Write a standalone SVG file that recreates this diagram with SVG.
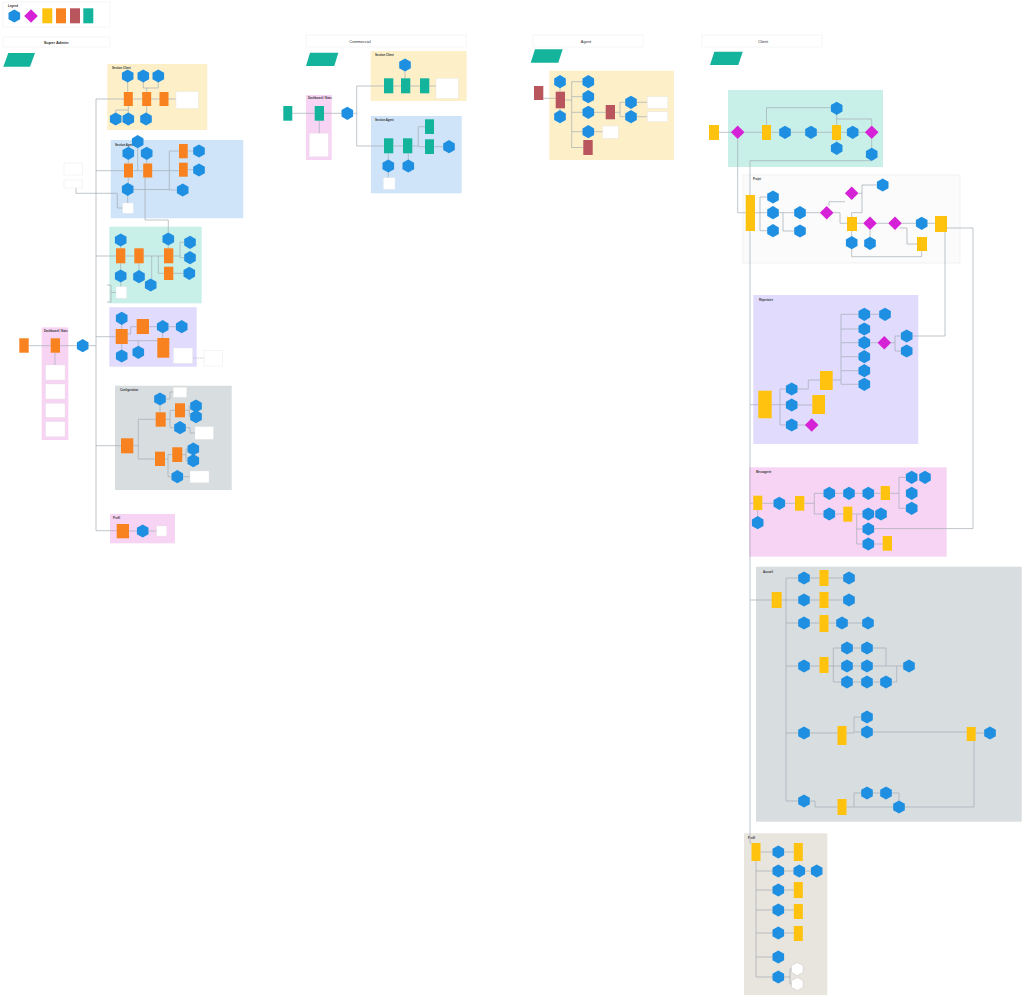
<svg xmlns="http://www.w3.org/2000/svg" xmlns:xlink="http://www.w3.org/1999/xlink" width="1024" height="995" viewBox="0 0 1024 995">
<style>
.hx{fill:#1e8fe1}
.wh{fill:#fff;stroke:#c8c8c8;stroke-width:.5}
.or{fill:#f7821f}
.ye{fill:#ffc20f}
.mr{fill:#b8555d}
.tl{fill:#14b39b}
.dm{fill:#d622d6}
.wb{fill:#fff;stroke:#e3e3e3;stroke-width:.4}
.ln{fill:none;stroke:#a3adb5;stroke-width:.7}
.dl{fill:none;stroke:#a3adb5;stroke-width:.6;stroke-dasharray:1.5 1}
.lbl{font-family:"Liberation Sans",Arial,sans-serif;font-size:2.8px;font-weight:bold;fill:#333}
.hd{font-family:"Liberation Sans",Arial,sans-serif;font-size:4px;fill:#333;text-anchor:middle}
.hdr{fill:#fff;stroke:#ececec;stroke-width:.5}
.s-ye{fill:#fdf0c9}.s-bl{fill:#cfe4f8}.s-tq{fill:#c9efe9}.s-pu{fill:#e1dbfd}.s-pk{fill:#f8d4f4}.s-gr{fill:#d8dde0}.s-be{fill:#e8e4de}
.s-pj{fill:#fbfbfb;stroke:#e5e5e5;stroke-width:.5}
</style>
<defs>
<path id="hx" d="M0,-6.6 L5.8,-3.3 L5.8,3.3 L0,6.6 L-5.8,3.3 L-5.8,-3.3Z"/>
<path id="dm" d="M0,-6.8 L6.8,0 L0,6.8 L-6.8,0Z"/>
</defs>
<rect width="1024" height="995" fill="#fff"/>

<g id="legend">
<rect class="hdr" x="3" y="2" width="107" height="25"/>
<text class="lbl" x="8" y="7" font-weight="normal">Legend</text>
<use href="#hx" class="hx" x="14.3" y="16"/>
<use href="#dm" class="dm" x="31" y="16"/>
<rect class="ye" x="42.3" y="8.3" width="10" height="15"/>
<rect class="or" x="56" y="8.3" width="10" height="15"/>
<rect class="mr" x="70" y="8.3" width="10" height="15"/>
<rect class="tl" x="83.3" y="8.3" width="10" height="15"/>
</g>
<g id="hdr-sa"><rect class="hdr" x="3" y="37" width="107" height="10"/><text class="hd" x="56" y="43.5" font-weight="bold">Super Admin</text></g>
<g id="hdr-co"><rect class="hdr" x="306" y="35" width="160" height="12"/><text class="hd" x="360" y="42.5">Commercial</text></g>
<g id="hdr-ag"><rect class="hdr" x="533" y="35" width="110" height="12"/><text class="hd" x="586" y="42.5">Agent</text></g>
<g id="hdr-cl"><rect class="hdr" x="702" y="35" width="120" height="12"/><text class="hd" x="763" y="42.5">Client</text></g>

<g id="pg-sa"><polygon class="tl" points="8.3,53 35,53 30,66.7 3.3,66.7"/></g>
<g id="pg-co"><polygon class="tl" points="310,52.7 338.3,52.7 334.3,66 306,66"/></g>
<g id="pg-ag"><polygon class="tl" points="535,49.3 562.7,49.3 558.3,62.7 530.7,62.7"/></g>
<g id="pg-cl"><polygon class="tl" points="714.3,51.7 742.7,51.7 738.3,65 710,65"/></g>

<g id="sections">
<rect class="s-ye" x="107.3" y="64" width="100" height="66"/><text class="lbl" x="112" y="69">Section Client</text>
<rect class="s-bl" x="110.7" y="140" width="132.6" height="78.3"/><text class="lbl" x="115" y="145.5">Section Agent</text>
<rect class="s-tq" x="109.3" y="226.7" width="92.4" height="76.6"/>
<rect class="s-pu" x="109.3" y="307.3" width="87.4" height="59.4"/>
<rect class="s-pk" x="41.7" y="327.3" width="26.6" height="112.7"/><text class="lbl" x="44" y="331.5">Dashboard / Stats</text>
<rect class="s-gr" x="115" y="385.7" width="116.7" height="104.3"/><text class="lbl" x="120" y="391">Configuration</text>
<rect class="s-pk" x="110" y="514" width="65" height="29.3"/><text class="lbl" x="113" y="518.5">Profil</text>
<rect class="s-ye" x="370.7" y="51" width="96" height="50"/><text class="lbl" x="375" y="56">Section Client</text>
<rect class="s-bl" x="371" y="116" width="90.7" height="77.3"/><text class="lbl" x="375" y="121">Section Agent</text>
<rect class="s-pk" x="306" y="95" width="25.7" height="65"/><text class="lbl" x="308" y="99">Dashboard / Stats</text>
<rect class="s-ye" x="549.3" y="70.7" width="124.7" height="89.3"/>
<rect class="s-tq" x="728" y="90" width="155" height="77"/>
<rect class="s-pj" x="743" y="175" width="217" height="88"/><text class="lbl" x="753" y="180">Projet</text>
<rect class="s-pu" x="753.3" y="295" width="165" height="149"/><text class="lbl" x="759" y="301">Répertoire</text>
<rect class="s-pk" x="749" y="467.3" width="197.7" height="89.4"/><text class="lbl" x="756" y="472.5">Messagerie</text>
<rect class="s-gr" x="756" y="566.7" width="265.7" height="255"/><text class="lbl" x="763" y="572.5">Accueil</text>
<rect class="s-be" x="744" y="833.3" width="83.3" height="161.7"/><text class="lbl" x="748" y="838.5">Profil</text>
</g>

<g id="connectors">
<path class="ln" d="M96,99 H176 M127.7,82 V92 M143.3,82 V88 H146.7 V92 M158.3,82 V88 H146.7 M128.3,106 V110 H115.7 V113 M128.3,110 V113 M146.7,106 V113"/>
<path class="ln" d="M96,99 V530.7 H116.7"/>
<path class="ln" d="M96,170.7 H124 M133,170.7 H143.2 M152.2,170.7 H179 M169.3,151 V190 M169.3,151 H179 M169.3,190 H176.7 M187.7,151 H193.5 M187.7,169.7 H193.5 M137.7,148 V170.7 M128.3,159.6 V163.5 M146.7,159.6 V163.5 M128.3,177.5 V183 M127.7,195.6 V203 M133.3,189.5 H169.3 M76,188 V193.3 H117.3 V208 H122.7 M145,177.5 V220 H168.3 V232.7"/>
<path class="ln" d="M96,256 H116 M125.3,256 H134.3 M143.7,256 H164 M151.7,256 V278.7 M158.3,256 V273.3 H164 M173.3,256 H180 V242.3 H184.5 M180,256 V257.7 H184.5 M173.3,273.3 H183.8 M120.7,246.3 V248.3 M120.7,263.3 V269.7 M120.7,282.3 V286.7 M139,263.3 V270.4 M168.3,245.3 V248.3 M107,285 H111 V302 H107 M111,292.5 H116"/>
<path class="ln" d="M96,336.7 H115.7 M127.7,334 H130.7 V326.7 H136.7 M127.7,340.7 H157.3 M138.3,340.7 V346 M149,326.7 H157.2 M168.2,326.7 H176.2 M162.7,333 V338 M121.7,324.6 V329 M121.7,344 V349.7"/>
<path class="dl" d="M192.7,358 H204"/>
<path class="ln" d="M28.7,345.7 H50.7 M60,345.7 H77.2 M88.2,345.7 H96 M55,352.7 V365"/>
<path class="ln" d="M96,445.7 H121 M133.3,445.7 H138.3 M138.3,419.3 V459 M138.3,419.3 H155.7 M138.3,459 H155 M160,405.3 V412.3 M165.5,399 H170 V392 H173.3 M165.7,419.3 H170 V410.3 H175 M170,419.3 V427.7 H174.5 M185,410.3 H189.3 V406 H190.5 M189.3,410.3 V416.7 H190.5 M185.5,427.7 H190 V433 H195 M165,459 H168 V454.6 H172.3 M168,459 V476.7 H171.8 M182.3,454.6 H186 V449 H187.8 M186,454.6 V460.7 H187.8 M182.8,476.7 H190"/>
<path class="ln" d="M129,531 H137.2 M148.2,531 H156.7"/>
<path class="ln" d="M292.3,113.3 H314.7 M324,113.3 H341.8 M352.8,113.3 H356.7 M356.7,86 V146 M356.7,86 H384 M356.7,146 H384 M393.3,86 H401 M410.3,86 H420 M429.3,86 H436 M405,71.3 V78.3 M393.3,146 H403 M412.3,146 H418.3 V126.7 H425 M418.3,146.7 H425 M434,146.7 H443.5 M388.3,153.3 V160 M388.3,172 V177.7 M408.3,153.3 V160 M319.3,120.7 V133.3"/>
<path class="ln" d="M543.3,98.3 H555.7 M565,100 H571.7 M571.7,81.7 V147.5 M571.7,81.7 H582.8 M571.7,96.7 H582.8 M571.7,112.3 H582.8 M571.7,131.7 H582.8 M571.7,147.5 H583.3 M593.8,112.3 H605.7 M615,112.3 H620 V102.3 H625.5 M620,112.3 V116.7 H625.5 M636.5,102.3 H647.3 M636.5,116.7 H647.3 M593.8,131.7 H602.7 M560,88 V91.7 M560,108.3 V110.4"/>
<path class="ln" d="M719,132.3 H731 M744.4,132.3 H762 M771,132.3 H779.5 M790.5,132.3 H805.5 M816.5,132.3 H832 M841,132.3 H847.2 M858.2,132.3 H865 M766.5,125 V107.7 H831.2 M836.7,114.6 V125 M836.7,140 V142 M836.7,119 H871.7 V125.3 M871.7,139.3 V148 M871.7,160.6 V160.7 H750 V843 H751.5 M737.7,139.3 V212.7 H745.7"/>
<path class="ln" d="M755,212.7 H767.5 M760,197 V230.7 M760,197 H767.5 M760,230.7 H767.5 M778.5,212.7 H794.5 M783,212.7 V231 H794.5 M805.5,212.7 H819.9 M829,206 V201.7 H845 M851.7,217 V212.7 H862 V185 H877.2 M858.5,193.3 H862 M833.5,212.7 H840 V223.3 H847 M857,223.3 H863.2 M876.8,223.3 H888.2 M901.8,223.3 H916.2 M927.2,223.3 H935 M851.7,231 V236.4 M870,230.1 V237.1 M851.7,249 V256.7 H921.7 V251 M900,228 H907 V244 H917 M947,228 H973 V528.6 H873.8 M945,232 V336 H912.2"/>
<path class="ln" d="M750,404.7 H758.3 M771.7,404.7 H786.2 M780,389 V425 M780,389 H786.2 M780,425 H786.2 M797.2,389 H808.3 V380 H820 M797.2,405 H812.3 M797.2,425 H804.9 M832.7,380 H841 M841,314.3 V384.3 M841,314.3 H858.9 M841,329 H858.9 M841,342.7 H858.9 M841,356.7 H858.9 M841,370.7 H858.9 M841,384.3 H858.9 M869.7,314.3 H879.6 M869.7,342.7 H877.5 M891.1,342.7 H895 M895,336 V351 M895,336 H901.3 M895,351 H901.3"/>
<path class="ln" d="M750,503.3 H753.3 M762.3,503.3 H773.9 M784.7,503.3 H795 M804.3,503.3 H814.3 M814.3,493.3 V514 M814.3,493.3 H823.9 M814.3,514 H823.9 M834.7,493.3 H843.6 M854.4,493.3 H862.9 M873.7,493.3 H880.7 M890,493.3 H899 M899,477.3 V508.3 M899,477.3 H906.3 M899,508.3 H906.3 M834.7,514 H843.3 M852.3,514 H862.9 M856.7,514 V544 H862.9 M856.7,529 H862.9 M873.7,544 H882.7 M757.7,510 V516.5 M873.7,514 H875.6"/>
<path class="ln" d="M750,600 H771.7 M781.7,600 H786 M786,578 V801 M786,578 H798.6 M786,623 H798.6 M786,666 H798.6 M786,733 H798.6 M786,801 H798.6 M786,600 H798.6 M809.4,578 H819.5 M828.5,578 H843.6 M809.4,600 H819.5 M828.5,600 H843.6 M809.4,623 H819.5 M828.5,623 H836.6 M847.4,623 H862.6 M809.4,666 H819.5 M828.5,666 H841.6 M833.3,648 V682 M833.3,648 H841.6 M833.3,682 H841.6 M852.4,648 H861.6 M852.4,666 H861.6 M852.4,682 H861.6 M872.4,648 H886 V666 M872.4,666 H903.6 M872.4,682 H880.6 M891.4,682 H896.7 V666 M809.4,733 H837.5 M846.5,733 H854 M854,717 V732 M854,717 H861.6 M854,732 H861.6 M872.4,732 H966.7 M975.7,733 H984.6 M809.4,801 H815 V807 H837.5 M846.5,807 H893.6 M854,807 V793 H861.6 M872.4,793 H880.6 M891.4,793 H899 V800.8 M904.4,807 H974 V741"/>
<path class="ln" d="M760.5,852 H772.9 M783.7,852 H793.8 M756,861 V977 H772.9 M756,871 H772.9 M756,890 H772.9 M756,910 H772.9 M756,933 H772.9 M756,957 H772.9 M783.7,871 H793.9 M804.7,871 H811.3 M783.7,890 H793.8 M783.7,910 H793.8 M783.7,933 H793.8 M783.7,977 H790 V969 H791.9 M790,977 V984 H791.9"/>
</g>

<g id="sa-client">
<g id="sac-h1"><use href="#hx" class="hx" x="127.7" y="76"/></g>
<g id="sac-h2"><use href="#hx" class="hx" x="143.3" y="76"/></g>
<g id="sac-h3"><use href="#hx" class="hx" x="158.3" y="76"/></g>
<g id="sac-o1"><rect class="or" x="123.8" y="92" width="9" height="14"/></g>
<g id="sac-o2"><rect class="or" x="142.2" y="92" width="9" height="14"/></g>
<g id="sac-o3"><rect class="or" x="159.5" y="92" width="9" height="14"/></g>
<g id="sac-w1"><rect class="wb" x="176" y="91.7" width="22.3" height="16.6"/></g>
<g id="sac-h4"><use href="#hx" class="hx" x="115.7" y="119"/></g>
<g id="sac-h5"><use href="#hx" class="hx" x="128.3" y="119"/></g>
<g id="sac-h6"><use href="#hx" class="hx" x="146" y="119"/></g>
</g>
<g id="sa-agent">
<g id="saa-h1"><use href="#hx" class="hx" x="137.7" y="141.7"/></g>
<g id="saa-h2"><use href="#hx" class="hx" x="128.3" y="153.3"/></g>
<g id="saa-h3"><use href="#hx" class="hx" x="146.7" y="153.3"/></g>
<g id="saa-o1"><rect class="or" x="124" y="163.5" width="9" height="14"/></g>
<g id="saa-o2"><rect class="or" x="143.2" y="163.5" width="9" height="14"/></g>
<g id="saa-o3"><rect class="or" x="179" y="144" width="8.7" height="14.3"/></g>
<g id="saa-o4"><rect class="or" x="179" y="162.7" width="8.7" height="14"/></g>
<g id="saa-h4"><use href="#hx" class="hx" x="199" y="151"/></g>
<g id="saa-h5"><use href="#hx" class="hx" x="199" y="170"/></g>
<g id="saa-h6"><use href="#hx" class="hx" x="127.7" y="189.3"/></g>
<g id="saa-h7"><use href="#hx" class="hx" x="182.7" y="190"/></g>
<g id="saa-w1"><rect class="wb" x="122.7" y="203" width="10.6" height="10.3"/></g>
<g id="saa-n1"><rect class="wb" x="64" y="163" width="18.7" height="12"/></g>
<g id="saa-n2"><rect class="wb" x="64" y="180" width="18.7" height="8"/></g>
</g>
<g id="sa-ent">
<g id="sae-h1"><use href="#hx" class="hx" x="120.7" y="240"/></g>
<g id="sae-h2"><use href="#hx" class="hx" x="168.3" y="239"/></g>
<g id="sae-h3"><use href="#hx" class="hx" x="190" y="242.3"/></g>
<g id="sae-h4"><use href="#hx" class="hx" x="190" y="257.7"/></g>
<g id="sae-h5"><use href="#hx" class="hx" x="189.3" y="273.3"/></g>
<g id="sae-h6"><use href="#hx" class="hx" x="120.7" y="276"/></g>
<g id="sae-h7"><use href="#hx" class="hx" x="139" y="276.7"/></g>
<g id="sae-h8"><use href="#hx" class="hx" x="150.7" y="285"/></g>
<g id="sae-o1"><rect class="or" x="116" y="248.3" width="9.3" height="15"/></g>
<g id="sae-o2"><rect class="or" x="134.3" y="248.3" width="9.4" height="15"/></g>
<g id="sae-o3"><rect class="or" x="164" y="248.3" width="9.3" height="15"/></g>
<g id="sae-o4"><rect class="or" x="164" y="266.7" width="9.3" height="13.3"/></g>
<g id="sae-w1"><rect class="wb" x="116" y="286.7" width="10.7" height="11.6"/></g>
</g>
<g id="sa-fin">
<g id="saf-h1"><use href="#hx" class="hx" x="121.7" y="318.3"/></g>
<g id="saf-h2"><use href="#hx" class="hx" x="162.7" y="326.7"/></g>
<g id="saf-h3"><use href="#hx" class="hx" x="181.7" y="326.7"/></g>
<g id="saf-h4"><use href="#hx" class="hx" x="121.7" y="356"/></g>
<g id="saf-h5"><use href="#hx" class="hx" x="138.3" y="352.3"/></g>
<g id="saf-o1"><rect class="or" x="115.7" y="329" width="12" height="15"/></g>
<g id="saf-o2"><rect class="or" x="136.7" y="319" width="12.3" height="15"/></g>
<g id="saf-o3"><rect class="or" x="157.3" y="338" width="12" height="19.7"/></g>
<g id="saf-w1"><rect class="wb" x="173.3" y="348" width="19.4" height="15.3"/></g>
<g id="saf-w2"><rect class="wb" x="204" y="350.7" width="18.7" height="15.3"/></g>
</g>
<g id="sa-dash">
<g id="sad-o1"><rect class="or" x="19.3" y="338.3" width="9.4" height="14.4"/></g>
<g id="sad-o2"><rect class="or" x="50.7" y="338.3" width="9.3" height="14.4"/></g>
<g id="sad-h1"><use href="#hx" class="hx" x="82.7" y="345.7"/></g>
<g id="sad-w1"><rect class="wb" x="45.7" y="365" width="19.3" height="15"/></g>
<g id="sad-w2"><rect class="wb" x="45.7" y="384" width="19.3" height="15"/></g>
<g id="sad-w3"><rect class="wb" x="45.7" y="403.3" width="19.3" height="14"/></g>
<g id="sad-w4"><rect class="wb" x="45.7" y="421.7" width="19.3" height="15"/></g>
</g>
<g id="sa-conf">
<g id="sacf-o1"><rect class="or" x="121" y="438.3" width="12.3" height="15"/></g>
<g id="sacf-h1"><use href="#hx" class="hx" x="160" y="399"/></g>
<g id="sacf-w1"><rect class="wb" x="173.3" y="387.3" width="13.4" height="10"/></g>
<g id="sacf-o2"><rect class="or" x="155.7" y="412.3" width="10" height="14.4"/></g>
<g id="sacf-o3"><rect class="or" x="175" y="403.3" width="10" height="14"/></g>
<g id="sacf-h2"><use href="#hx" class="hx" x="196" y="406"/></g>
<g id="sacf-h3"><use href="#hx" class="hx" x="196" y="416.7"/></g>
<g id="sacf-h4"><use href="#hx" class="hx" x="180" y="427.7"/></g>
<g id="sacf-w2"><rect class="wb" x="195" y="426.7" width="18.3" height="12.6"/></g>
<g id="sacf-o4"><rect class="or" x="155" y="451.7" width="10" height="14.3"/></g>
<g id="sacf-o5"><rect class="or" x="172.3" y="447.3" width="10" height="14.7"/></g>
<g id="sacf-h5"><use href="#hx" class="hx" x="193.3" y="449"/></g>
<g id="sacf-h6"><use href="#hx" class="hx" x="193.3" y="460.7"/></g>
<g id="sacf-h7"><use href="#hx" class="hx" x="177.3" y="476.7"/></g>
<g id="sacf-w3"><rect class="wb" x="190" y="471" width="19" height="11.7"/></g>
</g>
<g id="sa-prof">
<g id="sap-o1"><rect class="or" x="116.7" y="524" width="12.3" height="14.3"/></g>
<g id="sap-h1"><use href="#hx" class="hx" x="142.7" y="531"/></g>
<g id="sap-w1"><rect class="wb" x="156.7" y="526" width="10" height="10"/></g>
</g>

<g id="co-nodes">
<g id="co-t1"><rect class="tl" x="283.3" y="106" width="9" height="14.7"/></g>
<g id="co-t2"><rect class="tl" x="314.7" y="106" width="9.3" height="14.7"/></g>
<g id="co-w1"><rect class="wb" x="309.3" y="133.3" width="19" height="23.4"/></g>
<g id="co-h1"><use href="#hx" class="hx" x="347.3" y="113.3"/></g>
<g id="coc-h1"><use href="#hx" class="hx" x="405" y="65"/></g>
<g id="coc-t1"><rect class="tl" x="384" y="78.3" width="9.3" height="15"/></g>
<g id="coc-t2"><rect class="tl" x="401" y="78.3" width="9.3" height="15"/></g>
<g id="coc-t3"><rect class="tl" x="420" y="78.3" width="9.3" height="15"/></g>
<g id="coc-w1"><rect class="wb" x="436" y="78.3" width="22.3" height="20"/></g>
<g id="coa-t1"><rect class="tl" x="384" y="138.3" width="9.3" height="15"/></g>
<g id="coa-t2"><rect class="tl" x="403" y="138.3" width="9.3" height="15"/></g>
<g id="coa-t3"><rect class="tl" x="425" y="119.3" width="9" height="14.7"/></g>
<g id="coa-t4"><rect class="tl" x="425" y="139.3" width="9" height="14.7"/></g>
<g id="coa-h1"><use href="#hx" class="hx" x="449" y="146.7"/></g>
<g id="coa-h2"><use href="#hx" class="hx" x="388.3" y="166"/></g>
<g id="coa-h3"><use href="#hx" class="hx" x="408.3" y="166"/></g>
<g id="coa-w1"><rect class="wb" x="383.3" y="177.7" width="11.7" height="11.6"/></g>
</g>

<g id="ag-nodes">
<g id="ag-m1"><rect class="mr" x="534" y="86" width="9.3" height="14"/></g>
<g id="ag-h1"><use href="#hx" class="hx" x="560" y="81.7"/></g>
<g id="ag-m2"><rect class="mr" x="555.7" y="91.7" width="9.3" height="16.6"/></g>
<g id="ag-h2"><use href="#hx" class="hx" x="560" y="116.7"/></g>
<g id="ag-h3"><use href="#hx" class="hx" x="588.3" y="81.7"/></g>
<g id="ag-h4"><use href="#hx" class="hx" x="588.3" y="96.7"/></g>
<g id="ag-h5"><use href="#hx" class="hx" x="588.3" y="112.3"/></g>
<g id="ag-h6"><use href="#hx" class="hx" x="588.3" y="131.7"/></g>
<g id="ag-m3"><rect class="mr" x="583.3" y="140" width="9.4" height="15"/></g>
<g id="ag-m4"><rect class="mr" x="605.7" y="105" width="9.3" height="14.3"/></g>
<g id="ag-h7"><use href="#hx" class="hx" x="631" y="102.3"/></g>
<g id="ag-h8"><use href="#hx" class="hx" x="631" y="116.7"/></g>
<g id="ag-w1"><rect class="wb" x="647.3" y="96.7" width="20.4" height="11.6"/></g>
<g id="ag-w2"><rect class="wb" x="647.3" y="111.7" width="20.4" height="10"/></g>
<g id="ag-w3"><rect class="wb" x="602.7" y="126" width="15.6" height="12.3"/></g>
</g>

<g id="cl-sub">
<g id="cls-y1"><rect class="ye" x="709" y="125" width="10" height="15"/></g>
<g id="cls-d1"><use href="#dm" class="dm" x="737.7" y="132.3"/></g>
<g id="cls-y2"><rect class="ye" x="762" y="125" width="9" height="15"/></g>
<g id="cls-h1"><use href="#hx" class="hx" x="785" y="132.3"/></g>
<g id="cls-h2"><use href="#hx" class="hx" x="811" y="132.3"/></g>
<g id="cls-y3"><rect class="ye" x="832" y="125" width="9" height="15"/></g>
<g id="cls-h3"><use href="#hx" class="hx" x="836.7" y="108.3"/></g>
<g id="cls-h4"><use href="#hx" class="hx" x="836.7" y="148.3"/></g>
<g id="cls-h5"><use href="#hx" class="hx" x="852.7" y="132.3"/></g>
<g id="cls-d2"><use href="#dm" class="dm" x="871.7" y="132.3"/></g>
<g id="cls-h6"><use href="#hx" class="hx" x="871.7" y="154.3"/></g>
</g>
<g id="cl-proj">
<g id="clp-y1"><rect class="ye" x="745.7" y="195" width="9.3" height="36"/></g>
<g id="clp-h1"><use href="#hx" class="hx" x="773" y="197"/></g>
<g id="clp-h2"><use href="#hx" class="hx" x="773" y="212.7"/></g>
<g id="clp-h3"><use href="#hx" class="hx" x="773" y="230.7"/></g>
<g id="clp-h4"><use href="#hx" class="hx" x="800" y="212.7"/></g>
<g id="clp-h5"><use href="#hx" class="hx" x="800" y="231"/></g>
<g id="clp-d1"><use href="#dm" class="dm" x="826.7" y="212.7"/></g>
<g id="clp-d2"><use href="#dm" class="dm" x="851.7" y="193.3"/></g>
<g id="clp-h6"><use href="#hx" class="hx" x="882.7" y="185"/></g>
<g id="clp-y2"><rect class="ye" x="847" y="217" width="10" height="14"/></g>
<g id="clp-d3"><use href="#dm" class="dm" x="870" y="223.3"/></g>
<g id="clp-d4"><use href="#dm" class="dm" x="895" y="223.3"/></g>
<g id="clp-h7"><use href="#hx" class="hx" x="921.7" y="223.3"/></g>
<g id="clp-y3"><rect class="ye" x="935" y="216" width="12" height="16"/></g>
<g id="clp-h8"><use href="#hx" class="hx" x="851.7" y="242.7"/></g>
<g id="clp-h9"><use href="#hx" class="hx" x="870" y="243.3"/></g>
<g id="clp-y4"><rect class="ye" x="917" y="237" width="10" height="14"/></g>
</g>
<g id="cl-rep">
<g id="clr-y1"><rect class="ye" x="758.3" y="390.7" width="13.4" height="27.6"/></g>
<g id="clr-h1"><use href="#hx" class="hx" x="791.7" y="389"/></g>
<g id="clr-h2"><use href="#hx" class="hx" x="791.7" y="405"/></g>
<g id="clr-h3"><use href="#hx" class="hx" x="791.7" y="425"/></g>
<g id="clr-d1"><use href="#dm" class="dm" x="811.7" y="425"/></g>
<g id="clr-y2"><rect class="ye" x="820" y="371" width="12.7" height="19"/></g>
<g id="clr-y3"><rect class="ye" x="812.3" y="395" width="12.7" height="19"/></g>
<g id="clr-h4"><use href="#hx" class="hx" x="864.3" y="314.3"/></g>
<g id="clr-h5"><use href="#hx" class="hx" x="864.3" y="329"/></g>
<g id="clr-h6"><use href="#hx" class="hx" x="864.3" y="342.7"/></g>
<g id="clr-h7"><use href="#hx" class="hx" x="864.3" y="356.7"/></g>
<g id="clr-h8"><use href="#hx" class="hx" x="864.3" y="370.7"/></g>
<g id="clr-h9"><use href="#hx" class="hx" x="864.3" y="384.3"/></g>
<g id="clr-h10"><use href="#hx" class="hx" x="885" y="314.3"/></g>
<g id="clr-d2"><use href="#dm" class="dm" x="884.3" y="342.7"/></g>
<g id="clr-h11"><use href="#hx" class="hx" x="906.7" y="336"/></g>
<g id="clr-h12"><use href="#hx" class="hx" x="906.7" y="351"/></g>
</g>
<g id="cl-msg">
<g id="clm-y1"><rect class="ye" x="753.3" y="495.7" width="9" height="14.3"/></g>
<g id="clm-h1"><use href="#hx" class="hx" x="757.7" y="522.7"/></g>
<g id="clm-h2"><use href="#hx" class="hx" x="779.3" y="503.3"/></g>
<g id="clm-y2"><rect class="ye" x="795" y="496" width="9.3" height="14.7"/></g>
<g id="clm-h3"><use href="#hx" class="hx" x="829.3" y="493.3"/></g>
<g id="clm-h4"><use href="#hx" class="hx" x="849" y="493.3"/></g>
<g id="clm-h5"><use href="#hx" class="hx" x="868.3" y="493.3"/></g>
<g id="clm-y3"><rect class="ye" x="880.7" y="486" width="9.3" height="14"/></g>
<g id="clm-h6"><use href="#hx" class="hx" x="911.7" y="477.3"/></g>
<g id="clm-h7"><use href="#hx" class="hx" x="925" y="477.3"/></g>
<g id="clm-h8"><use href="#hx" class="hx" x="911.7" y="493.3"/></g>
<g id="clm-h9"><use href="#hx" class="hx" x="911.7" y="508.3"/></g>
<g id="clm-h10"><use href="#hx" class="hx" x="829.3" y="514"/></g>
<g id="clm-y4"><rect class="ye" x="843.3" y="506.7" width="9" height="15"/></g>
<g id="clm-h11"><use href="#hx" class="hx" x="868.3" y="514"/></g>
<g id="clm-h12"><use href="#hx" class="hx" x="881" y="514"/></g>
<g id="clm-h13"><use href="#hx" class="hx" x="868.3" y="529"/></g>
<g id="clm-h14"><use href="#hx" class="hx" x="868.3" y="544"/></g>
<g id="clm-y5"><rect class="ye" x="882.7" y="536" width="9.3" height="14.7"/></g>
</g>
<g id="cl-home">
<g id="clh-y0"><rect class="ye" x="771.7" y="592" width="10" height="16"/></g>
<g id="clh-h1"><use href="#hx" class="hx" x="804" y="578"/></g>
<g id="clh-y1"><rect class="ye" x="819.5" y="570" width="9" height="16"/></g>
<g id="clh-h2"><use href="#hx" class="hx" x="849" y="578"/></g>
<g id="clh-h3"><use href="#hx" class="hx" x="804" y="600"/></g>
<g id="clh-y2"><rect class="ye" x="819.5" y="592" width="9" height="16"/></g>
<g id="clh-h4"><use href="#hx" class="hx" x="849" y="600"/></g>
<g id="clh-h5"><use href="#hx" class="hx" x="804" y="623"/></g>
<g id="clh-y3"><rect class="ye" x="819.5" y="615" width="9" height="17"/></g>
<g id="clh-h6"><use href="#hx" class="hx" x="842" y="623"/></g>
<g id="clh-h7"><use href="#hx" class="hx" x="868" y="623"/></g>
<g id="clh-h8"><use href="#hx" class="hx" x="804" y="666"/></g>
<g id="clh-y4"><rect class="ye" x="819.5" y="657" width="9" height="16"/></g>
<g id="clh-h9"><use href="#hx" class="hx" x="847" y="648"/></g>
<g id="clh-h10"><use href="#hx" class="hx" x="867" y="648"/></g>
<g id="clh-h11"><use href="#hx" class="hx" x="847" y="666"/></g>
<g id="clh-h12"><use href="#hx" class="hx" x="867" y="666"/></g>
<g id="clh-h13"><use href="#hx" class="hx" x="847" y="682"/></g>
<g id="clh-h14"><use href="#hx" class="hx" x="867" y="682"/></g>
<g id="clh-h15"><use href="#hx" class="hx" x="886" y="682"/></g>
<g id="clh-h16"><use href="#hx" class="hx" x="909" y="666"/></g>
<g id="clh-h17"><use href="#hx" class="hx" x="804" y="733"/></g>
<g id="clh-y5"><rect class="ye" x="837.5" y="726" width="9" height="19"/></g>
<g id="clh-h18"><use href="#hx" class="hx" x="867" y="717"/></g>
<g id="clh-h19"><use href="#hx" class="hx" x="867" y="732"/></g>
<g id="clh-y6"><rect class="ye" x="966.7" y="727" width="9" height="14"/></g>
<g id="clh-h20"><use href="#hx" class="hx" x="990" y="733"/></g>
<g id="clh-h21"><use href="#hx" class="hx" x="804" y="801"/></g>
<g id="clh-y7"><rect class="ye" x="837.5" y="799" width="9" height="16"/></g>
<g id="clh-h22"><use href="#hx" class="hx" x="867" y="793"/></g>
<g id="clh-h23"><use href="#hx" class="hx" x="886" y="793"/></g>
<g id="clh-h24"><use href="#hx" class="hx" x="899" y="807"/></g>
</g>
<g id="cl-prof">
<g id="clf-y1"><rect class="ye" x="751.5" y="843" width="9" height="18"/></g>
<g id="clf-h1"><use href="#hx" class="hx" x="778.3" y="852"/></g>
<g id="clf-h2"><use href="#hx" class="hx" x="778.3" y="871"/></g>
<g id="clf-h3"><use href="#hx" class="hx" x="778.3" y="890"/></g>
<g id="clf-h4"><use href="#hx" class="hx" x="778.3" y="910"/></g>
<g id="clf-h5"><use href="#hx" class="hx" x="778.3" y="933"/></g>
<g id="clf-h6"><use href="#hx" class="hx" x="778.3" y="957"/></g>
<g id="clf-h7"><use href="#hx" class="hx" x="778.3" y="977"/></g>
<g id="clf-y2"><rect class="ye" x="793.8" y="843" width="9" height="18"/></g>
<g id="clf-y3"><rect class="ye" x="793.8" y="882" width="9" height="16"/></g>
<g id="clf-y4"><rect class="ye" x="793.8" y="904" width="9" height="15"/></g>
<g id="clf-y5"><rect class="ye" x="793.8" y="926" width="9" height="15"/></g>
<g id="clf-h8"><use href="#hx" class="hx" x="799.3" y="871"/></g>
<g id="clf-h9"><use href="#hx" class="hx" x="816.7" y="871"/></g>
<g id="clf-w1"><use href="#hx" class="wh" x="797.3" y="969"/></g>
<g id="clf-w2"><use href="#hx" class="wh" x="797.3" y="984"/></g>
</g>
</svg>
